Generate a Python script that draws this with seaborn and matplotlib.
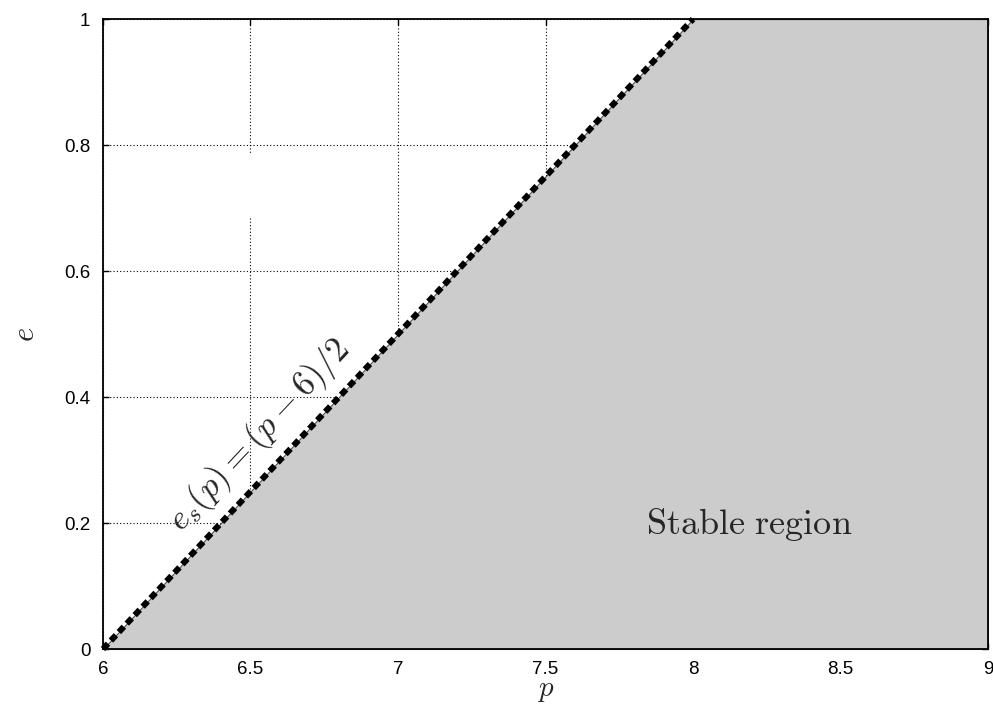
import numpy as np
import matplotlib
matplotlib.use("Agg")
import matplotlib.pyplot as plt
import seaborn as sns
import pandas as pd

# boundary e_s(p) = (p - 6)/2 and the stable region under it
p_line = [6.0, 8.0]
e_line = [0.0, 1.0]
p_fill = [6.0, 8.0, 9.0]
e_fill = [0.0, 1.0, 1.0]

x_ticks = [6, 6.5, 7, 7.5, 8, 8.5, 9]
x_labels = ["6", "6.5", "7", "7.5", "8", "8.5", "9"]
y_ticks = [0, 0.2, 0.4, 0.6, 0.8, 1]
y_labels = ["0", "0.2", "0.4", "0.6", "0.8", "1"]

sns.set_style("ticks")
plt.rcParams["font.family"] = ["Liberation Sans", "DejaVu Sans"]
plt.rcParams["mathtext.fontset"] = "cm"

fig = plt.figure(figsize=(9.93, 7.07), dpi=100)
ax = fig.add_axes([0.1037, 0.082, 0.8913, 0.891])

ax.set_axisbelow(True)
ax.grid(True, linestyle=(0, (1, 2)), color="black", linewidth=0.8)

ax.fill_between(p_fill, e_fill, 0, color="#cccccc", edgecolor="#555555",
                linewidth=0.8, zorder=1)
# small blank patch that interrupts the 6.5 gridline, as in the original
ax.add_patch(plt.Rectangle((6.45, 0.684), 0.1, 0.1, facecolor="white",
                           edgecolor="none", zorder=0.8))

df = pd.DataFrame({"p": p_line, "e": e_line})
sns.lineplot(data=df, x="p", y="e", ax=ax, color="black", linewidth=4.4,
             zorder=3, clip_on=False)
ax.lines[-1].set_dashes((1.2, 0.7))
ax.lines[-1].set_solid_capstyle("butt")

ax.set_xlim(6, 9)
ax.set_ylim(0, 1)
ax.set_xticks(x_ticks)
ax.set_xticklabels(x_labels)
ax.set_yticks(y_ticks)
ax.set_yticklabels(y_labels)
ax.tick_params(direction="in", length=4, width=1, labelsize=13.5,
               top=True, right=True, colors="black")
ax.tick_params(axis="x", pad=8.5)
ax.tick_params(axis="y", pad=9)

for s in ax.spines.values():
    s.set_linewidth(1.3)
    s.set_color("black")
    s.set_zorder(4)

ax.set_xlabel(r"$p$", fontsize=21, labelpad=-1)
ax.set_ylabel(r"$e$", fontsize=22, labelpad=17, rotation=90)

ax.text(8.19, 0.197, r"$\mathrm{Stable\ region}$", fontsize=26,
        ha="center", va="center")
ax.text(6.532, 0.34, r"$e_s(p) = (p-6)/2$", fontsize=25, rotation=46.9,
        ha="center", va="center", rotation_mode="anchor")

fig.savefig("out.png", dpi=100)
